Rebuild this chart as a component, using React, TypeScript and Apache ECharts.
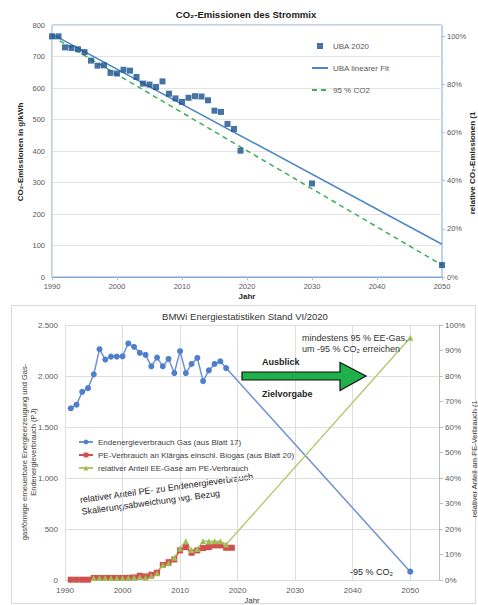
import React, { useEffect, useRef } from 'react';
import * as echarts from 'echarts';

// ---------- Top chart: CO2-Emissionen des Strommix ----------
const ubaYears = [1990, 1991, 1992, 1993, 1994, 1995, 1996, 1997, 1998, 1999, 2000, 2001, 2002, 2003, 2004, 2005, 2006, 2007, 2008, 2009, 2010, 2011, 2012, 2013, 2014, 2015, 2016, 2017, 2018, 2019, 2030, 2050];
const ubaValues = [764, 764, 729, 727, 723, 714, 687, 671, 672, 648, 646, 658, 655, 635, 614, 611, 603, 621, 582, 567, 556, 569, 574, 573, 561, 528, 524, 486, 470, 401, 297, 38];
const fitYears = [1990, 2050];
const fitValues = [771, 104];
const targetYears = [1990, 2050];
const targetValues = [764, 38];

// ---------- Bottom chart: BMWi Energiestatistiken ----------
const gasYears = [1991, 1992, 1993, 1994, 1995, 1996, 1997, 1998, 1999, 2000, 2001, 2002, 2003, 2004, 2005, 2006, 2007, 2008, 2009, 2010, 2011, 2012, 2013, 2014, 2015, 2016, 2017, 2018, 2050];
const gasValues = [1683, 1719, 1845, 1881, 2016, 2263, 2161, 2190, 2190, 2193, 2319, 2286, 2227, 2207, 2095, 2181, 2095, 2167, 2029, 2243, 2029, 2118, 2177, 1950, 2055, 2118, 2144, 2078, 82];
const bioYears = [1991, 1992, 1993, 1994, 1995, 1996, 1997, 1998, 1999, 2000, 2001, 2002, 2003, 2004, 2005, 2006, 2007, 2008, 2009, 2010, 2011, 2012, 2013, 2014, 2015, 2016, 2017, 2018, 2019];
const bioValues = [3, 3, 3, 3, 20, 20, 20, 20, 20, 20, 22, 25, 42, 35, 52, 72, 148, 175, 201, 290, 322, 267, 290, 313, 322, 339, 339, 316, 316];
const shareYears = [1995, 1996, 1997, 1998, 1999, 2000, 2001, 2002, 2003, 2004, 2005, 2006, 2007, 2008, 2009, 2010, 2011, 2012, 2013, 2014, 2015, 2016, 2017, 2018, 2050];
const shareValues = [0.8, 0.8, 0.8, 0.8, 0.8, 0.8, 0.9, 1.0, 1.2, 0.9, 1.6, 2.6, 5.9, 6.6, 8.7, 12.4, 15.2, 11.8, 12.2, 15.2, 15.2, 15.2, 15.2, 13.9, 95];

const FONT = "'Liberation Sans', Arial, Helvetica, sans-serif";
const LABEL = '#595959';
const pair = (xs: number[], ys: number[]) => xs.map((x, i) => [x, ys[i]]);
const dotThousands = (v: number) =>
  v >= 1000 ? `${Math.floor(v / 1000)}.${String(v % 1000).padStart(3, '0')}` : String(v);
const plain = (v: number) => String(v);

const txt = (x: number, y: number, text: string, extra: any = {}, el: any = {}) => ({
  type: 'text',
  x,
  y,
  silent: true,
  ...el,
  style: {
    text,
    fill: '#262626',
    fontFamily: FONT,
    fontSize: 9,
    textAlign: 'left',
    textVerticalAlign: 'middle',
    align: 'left',
    verticalAlign: 'middle',
    ...extra,
  },
});

export default function App() {
  const ref = useRef<HTMLDivElement>(null);
  useEffect(() => {
    const chart = echarts.init(ref.current!, null, { renderer: 'svg' });
    const option: any = {
      animation: false,
      backgroundColor: '#ffffff',
      textStyle: { fontFamily: FONT },
      grid: [
        { left: 52, right: 36, top: 25, bottom: 328, show: true, borderColor: '#7ea7d8', borderWidth: 1, backgroundColor: 'transparent' },
        { left: 65, right: 39, top: 325, bottom: 25 },
      ],
      xAxis: [
        {
          type: 'value', gridIndex: 0, min: 1990, max: 2050, interval: 10,
          axisLine: { show: true, lineStyle: { color: '#7ea7d8' } },
          axisTick: { show: true, length: 3, lineStyle: { color: '#a9c1e3' } },
          axisLabel: { color: LABEL, fontSize: 7.5, margin: 5, fontFamily: FONT, formatter: plain },
          splitLine: { show: false },
          name: 'Jahr', nameLocation: 'middle', nameGap: 15,
          nameTextStyle: { fontWeight: 'bold', fontSize: 8, color: '#262626', fontFamily: FONT },
        },
        {
          type: 'value', gridIndex: 1, min: 1990, max: 2055, interval: 10,
          axisLine: { show: true, lineStyle: { color: '#d9d9d9' } },
          axisTick: { show: false },
          axisLabel: { color: LABEL, fontSize: 8, margin: 6, fontFamily: FONT, showMaxLabel: false, formatter: plain },
          splitLine: { show: true, lineStyle: { color: '#dedede' } },
          name: 'Jahr', nameLocation: 'middle', nameGap: 16,
          nameTextStyle: { fontSize: 8, color: '#404040', fontFamily: FONT },
        },
      ],
      yAxis: [
        {
          type: 'value', gridIndex: 0, min: 0, max: 800, interval: 100,
          axisLine: { show: true, lineStyle: { color: '#d9d9d9' } },
          axisTick: { show: false },
          axisLabel: { color: LABEL, fontSize: 7.5, margin: 7, fontFamily: FONT },
          splitLine: { show: true, lineStyle: { color: '#e3e3e3' } },
        },
        {
          type: 'value', gridIndex: 0, position: 'right', min: 0, max: (800 / 764) * 100, interval: 20,
          axisLine: { show: false },
          axisTick: { show: true, length: 3, lineStyle: { color: '#a9c1e3' } },
          axisLabel: { color: LABEL, fontSize: 7.5, margin: 5, fontFamily: FONT, formatter: '{value}%', showMaxLabel: false },
          splitLine: { show: false },
        },
        {
          type: 'value', gridIndex: 1, min: 0, max: 2500, interval: 500,
          axisLine: { show: false },
          axisTick: { show: false },
          axisLabel: { color: LABEL, fontSize: 8, margin: 7, fontFamily: FONT, formatter: dotThousands },
          splitLine: { show: true, lineStyle: { color: '#dedede' } },
        },
        {
          type: 'value', gridIndex: 1, position: 'right', min: 0, max: 100, interval: 10,
          axisLine: { show: true, lineStyle: { color: '#bfbfbf' } },
          axisTick: { show: true, length: 4, lineStyle: { color: '#bfbfbf' } },
          axisLabel: { color: LABEL, fontSize: 8, margin: 6, fontFamily: FONT, formatter: '{value}%' },
          splitLine: { show: false },
        },
      ],
      legend: [
        {
          data: [
            { name: 'UBA 2020', icon: 'path://M0,0H10V10H0Z' },
            { name: 'UBA linearer Fit', itemStyle: { opacity: 0 } },
            { name: '95 % CO2', itemStyle: { opacity: 0 } },
          ],
          orient: 'vertical', left: 306, top: 37, itemWidth: 16, itemHeight: 6, itemGap: 14,
          textStyle: { fontSize: 8, color: LABEL, fontFamily: FONT },
        },
        {
          data: [
            'Endenergieverbrauch Gas (aus Blatt 17)',
            'PE-Verbrauch an Klärgas einschl. Biogas (aus Blatt 20)',
            'relativer Anteil EE-Gase am PE-Verbrauch',
          ],
          orient: 'vertical', left: 73, top: 433, itemWidth: 14, itemHeight: 6, itemGap: 5,
          textStyle: { fontSize: 8, color: '#404040', fontFamily: FONT },
        },
      ],
      series: [
        {
          name: 'UBA linearer Fit', type: 'line', xAxisIndex: 0, yAxisIndex: 0,
          data: pair(fitYears, fitValues), symbol: 'none',
          lineStyle: { color: '#4a86c8', width: 1.5 }, itemStyle: { color: '#4a86c8' },
        },
        {
          name: '95 % CO2', type: 'line', xAxisIndex: 0, yAxisIndex: 0,
          data: pair(targetYears, targetValues), symbol: 'none',
          lineStyle: { color: '#3bb05a', width: 1.5, type: [5, 4] }, itemStyle: { color: '#3bb05a' },
        },
        {
          name: 'UBA 2020', type: 'scatter', xAxisIndex: 0, yAxisIndex: 0,
          data: pair(ubaYears, ubaValues), symbol: 'rect', symbolSize: 6,
          itemStyle: { color: '#17508c' }, z: 5,
        },
        {
          name: 'Endenergieverbrauch Gas (aus Blatt 17)', type: 'line', xAxisIndex: 1, yAxisIndex: 2,
          data: pair(gasYears, gasValues), symbol: 'circle', symbolSize: 6, showAllSymbol: true,
          lineStyle: { color: '#6f93cf', width: 1.5 }, itemStyle: { color: '#4f7fcc' },
        },
        {
          name: 'PE-Verbrauch an Klärgas einschl. Biogas (aus Blatt 20)', type: 'line', xAxisIndex: 1, yAxisIndex: 2,
          data: pair(bioYears, bioValues), symbol: 'rect', symbolSize: 6, showAllSymbol: true,
          lineStyle: { color: '#d0504d', width: 1.5 }, itemStyle: { color: '#d0504d' },
        },
        {
          name: 'relativer Anteil EE-Gase am PE-Verbrauch', type: 'line', xAxisIndex: 1, yAxisIndex: 3,
          data: pair(shareYears, shareValues), symbol: 'triangle', symbolSize: 6, showAllSymbol: true,
          lineStyle: { color: '#b3c66a', width: 1.3 }, itemStyle: { color: '#9fbd55' },
        },
      ],
      graphic: [
        {
          type: 'rect', silent: true, z: -10,
          shape: { x: 11.5, y: 305.5, width: 464, height: 298 },
          style: { fill: 'none', stroke: '#d9d9d9', lineWidth: 1 },
        },
        txt(246, 14, 'CO₂-Emissionen des Strommix', { fontWeight: 'bold', fontSize: 9.5, textAlign: 'center', align: 'center', fill: '#1a1a1a' }),
        txt(245, 316, 'BMWi Energiestatistiken Stand VI/2020', { fontSize: 9.5, textAlign: 'center', align: 'center', fill: '#333333' }),
        txt(20, 152, 'CO₂-Emissionen in g/kWh', { fontWeight: 'bold', fontSize: 8, textAlign: 'center', align: 'center' }, { rotation: Math.PI / 2 }),
        txt(472, 163, 'relative CO₂-Emissionen (1', { fontWeight: 'bold', fontSize: 8, textAlign: 'center', align: 'center' }, { rotation: Math.PI / 2 }),
        txt(29, 452, 'gasförmige erneuerbare Energieerzeugung und Gas-\nEndenergieverbrauch (PJ)', { fontSize: 7.5, lineHeight: 9, textAlign: 'center', align: 'center', fill: '#404040' }, { rotation: Math.PI / 2 }),
        txt(474, 459, 'relativer Anteil am PE-Verbrauch (1', { fontSize: 7.5, textAlign: 'center', align: 'center', fill: '#404040' }, { rotation: Math.PI / 2 }),
        {
          type: 'polygon', silent: true, z: 20,
          shape: { points: [[242, 372], [340, 372], [340, 362.5], [366, 376], [340, 390.5], [340, 380], [242, 380]] },
          style: { fill: '#1fb04b', stroke: '#111111', lineWidth: 1.2 },
        },
        txt(262, 362, 'Ausblick', { fontWeight: 'bold', fontSize: 9 }, { z: 21 }),
        txt(262, 394, 'Zielvorgabe', { fontWeight: 'bold', fontSize: 9 }, { z: 21 }),
        txt(302, 338, 'mindestens 95 % EE-Gas,', { fontSize: 9, fill: '#333333' }, { z: 21 }),
        txt(302, 349, 'um -95 % CO₂ erreichen', { fontSize: 9, fill: '#333333' }, { z: 21 }),
        txt(350, 572, '-95 % CO₂', { fontSize: 9, fill: '#262626' }, { z: 21 }),
        {
          type: 'group', x: 80, y: 500, rotation: 0.135, silent: true, z: 21,
          children: [
            txt(0, 0, 'relativer Anteil PE- zu Endenergieverbrauch', { fontSize: 9, fill: '#262626' }),
            txt(0, 12, 'Skalierungsabweichung wg. Bezug', { fontSize: 9, fill: '#262626' }),
          ],
        },
      ],
    };
    chart.setOption(option);
    return () => chart.dispose();
  }, []);
  return (
    <div
      ref={ref}
      style={{ position: 'absolute', left: 0, top: 0, width: 478, height: 605, background: '#ffffff' }}
    />
  );
}
